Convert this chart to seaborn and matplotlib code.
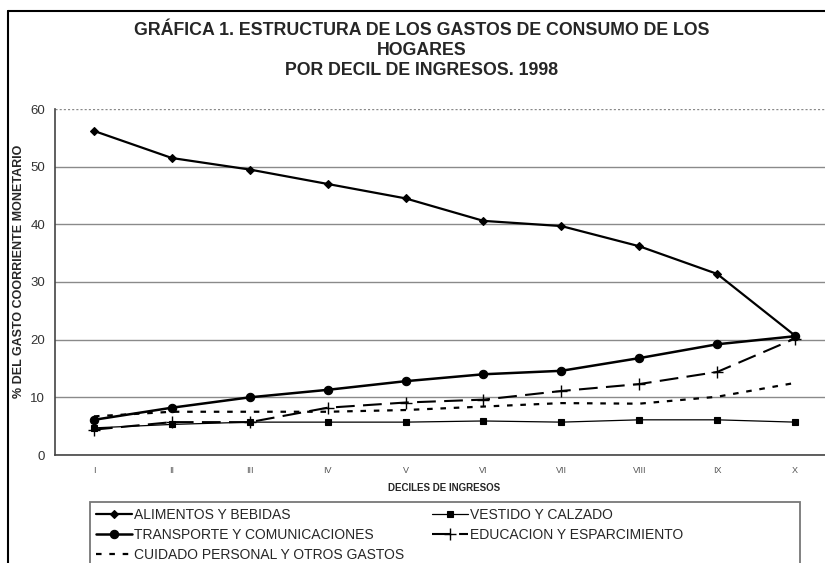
import numpy as np
import pandas as pd
import matplotlib
matplotlib.use("Agg")
import matplotlib.pyplot as plt
from matplotlib.lines import Line2D
from matplotlib.patches import Rectangle
import seaborn as sns

deciles = ["I", "II", "III", "IV", "V", "VI", "VII", "VIII", "IX", "X"]
alimentos = [56.2, 51.5, 49.5, 47.0, 44.5, 40.6, 39.7, 36.2, 31.4, 20.7]
transporte = [6.1, 8.2, 10.0, 11.3, 12.8, 14.0, 14.6, 16.8, 19.2, 20.6]
cuidado = [6.7, 7.5, 7.5, 7.5, 7.8, 8.4, 9.0, 8.9, 10.1, 12.5]
vestido = [4.7, 5.3, 5.7, 5.7, 5.7, 5.9, 5.7, 6.1, 6.1, 5.7]
educacion = [4.4, 5.7, 5.7, 8.2, 9.1, 9.6, 11.1, 12.3, 14.4, 20.2]

nombres = ["ALIMENTOS Y BEBIDAS", "TRANSPORTE Y COMUNICACIONES",
           "CUIDADO PERSONAL Y OTROS GASTOS", "VESTIDO Y CALZADO",
           "EDUCACION Y ESPARCIMIENTO"]
series = [alimentos, transporte, cuidado, vestido, educacion]

y_ticks = [0, 10, 20, 30, 40, 50, 60]

sns.set_style("white")
plt.rcParams["font.family"] = ["Liberation Sans", "DejaVu Sans"]

fig = plt.figure(figsize=(8.25, 5.63), dpi=100)
ax = fig.add_axes([55 / 825, 1 - 455 / 563, (834 - 55) / 825, (455 - 109) / 563])

# estilo de cada serie
estilos = {
    "ALIMENTOS Y BEBIDAS": dict(marker="D", markersize=4.5, lw=1.6, ls="-"),
    "TRANSPORTE Y COMUNICACIONES": dict(marker="o", markersize=6, lw=1.8, ls="-"),
    "CUIDADO PERSONAL Y OTROS GASTOS": dict(marker=None, lw=1.6, dashes=(2.5, 3.5)),
    "VESTIDO Y CALZADO": dict(marker="s", markersize=4, lw=0.9, ls="-"),
    "EDUCACION Y ESPARCIMIENTO": dict(marker="+", markersize=9, lw=1.5, dashes=(9, 4),
                                      markeredgewidth=1.0),
}

pos = np.arange(len(deciles))
for nombre, valores in zip(nombres, series):
    df = pd.DataFrame({"pos": pos, "valor": valores})
    st = estilos[nombre]
    kw = dict(color="black", linewidth=st["lw"], label=nombre)
    if st.get("marker"):
        kw["marker"] = st["marker"]
        kw["markersize"] = st["markersize"]
        kw["markeredgecolor"] = "black"
        kw["markeredgewidth"] = st.get("markeredgewidth", 0.8)
    if "dashes" in st:
        kw["dashes"] = st["dashes"]
    sns.lineplot(data=df, x="pos", y="valor", ax=ax, **kw)

ax.set_xlim(-0.5, 9.5)
ax.set_ylim(0, 60)
ax.set_yticks(y_ticks)
ax.set_yticklabels([str(t) for t in y_ticks], fontsize=9.5, color="#333333")
ax.set_xticks(pos)
ax.set_xticklabels(deciles, fontsize=6.5, color="#555555")
ax.set_xticks(pos[:-1] + 0.5, minor=True)
ax.tick_params(axis="x", which="major", length=0, pad=8)
ax.tick_params(axis="x", which="minor", length=3, direction="out", color="#444444")
ax.tick_params(axis="y", length=4, direction="out", color="#444444", pad=3)

ax.grid(axis="y", color="#8a8a8a", lw=1.0)
ax.yaxis.get_gridlines()[-1].set_linestyle((0, (1.5, 1.5)))
ax.set_axisbelow(True)
for s in ["top", "right"]:
    ax.spines[s].set_visible(False)
ax.spines["left"].set_color("#444444")
ax.spines["bottom"].set_color("#444444")
ax.spines["left"].set_linewidth(1.2)
ax.spines["bottom"].set_linewidth(1.2)

ax.set_xlabel("DECILES DE INGRESOS", fontsize=7, fontweight="bold", labelpad=6)
ax.set_ylabel("% DEL GASTO COORRIENTE MONETARIO", fontsize=9, fontweight="bold")
ax.yaxis.set_label_coords((25 - 55) / 779, 0.53)

fig.text(422 / 825, 1 - 22 / 563,
         "GRÁFICA 1. ESTRUCTURA DE LOS GASTOS DE CONSUMO DE LOS\nHOGARES\nPOR DECIL DE INGRESOS. 1998",
         ha="center", va="top", fontsize=12.8, fontweight="bold", linespacing=1.22)

leg = ax.legend(loc="upper left", bbox_to_anchor=(92 / 825, 1 - 504 / 563),
                bbox_transform=fig.transFigure, ncol=2, fontsize=10,
                frameon=False, handlelength=2.6, handletextpad=0.15,
                columnspacing=2.0, labelspacing=0.42, borderpad=0.3,
                borderaxespad=0)

# recuadro de la leyenda
fig.add_artist(Rectangle((90 / 825, -0.02), (800 - 90) / 825, 0.02 + (563 - 502) / 563,
                         transform=fig.transFigure, fill=False, edgecolor="#777777",
                         lw=1.3))

# marco de la imagen
fig.add_artist(Line2D([8 / 825, 8 / 825], [0, 1 - 11 / 563], color="black", lw=1.5,
                      transform=fig.transFigure))
fig.add_artist(Line2D([8 / 825, 1], [1 - 11 / 563, 1 - 11 / 563], color="black", lw=1.5,
                      transform=fig.transFigure))

fig.savefig("out.png", dpi=100)
